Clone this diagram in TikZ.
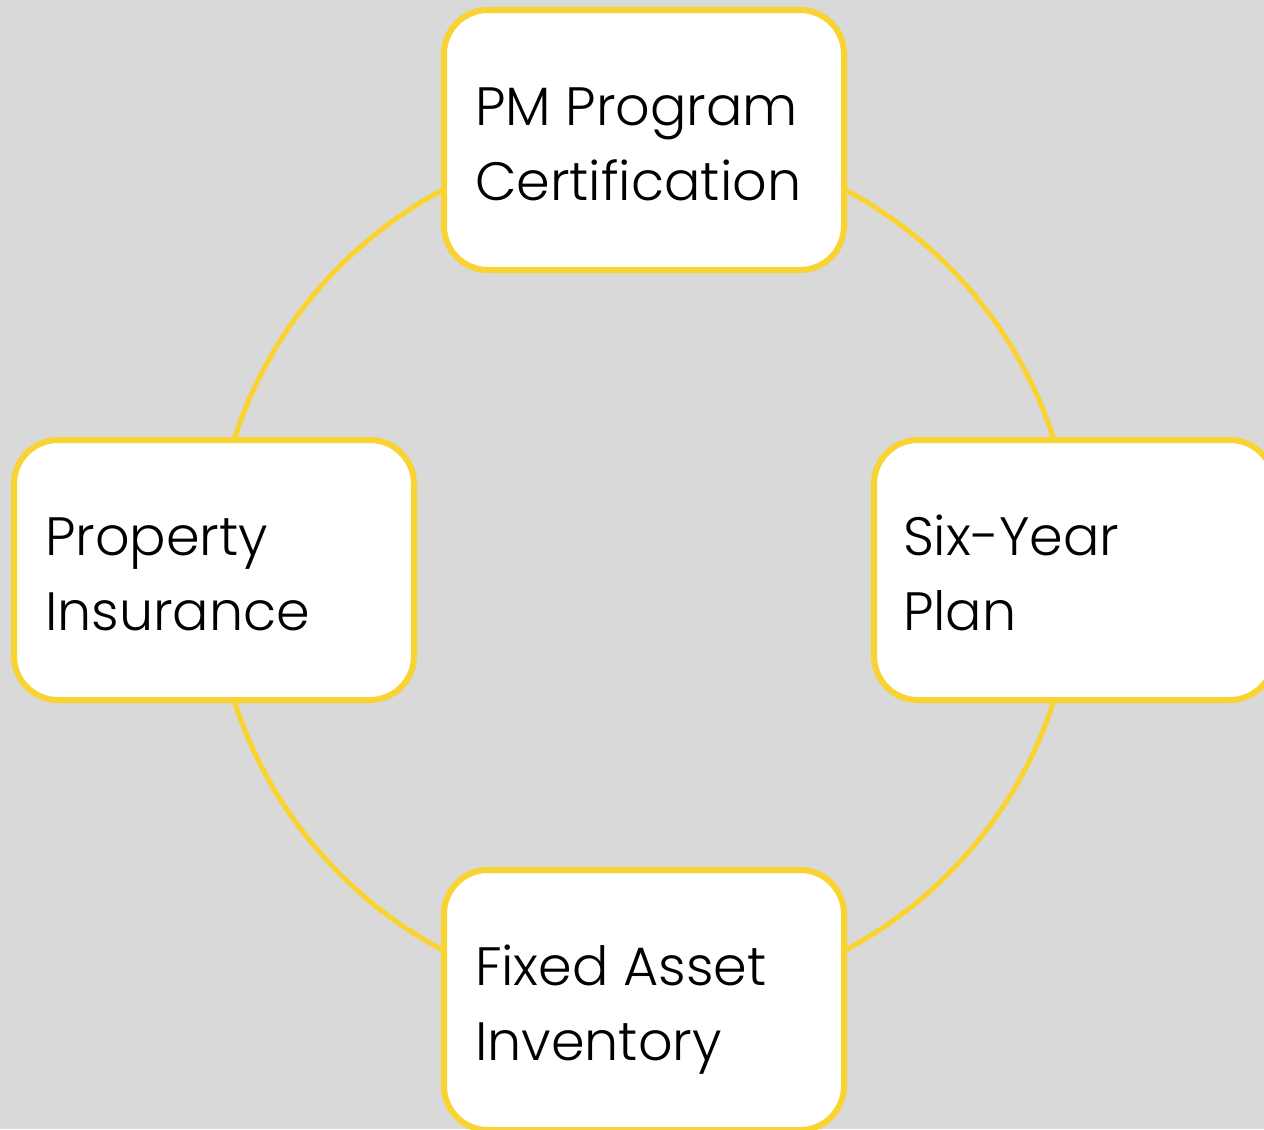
\documentclass[tikz,border=0pt]{standalone}
\usepackage{fontspec}
\setmainfont{Poppins Light}
\definecolor{bg}{HTML}{D9D9D9}
\definecolor{gold}{HTML}{F9D331}
\begin{document}
\begin{tikzpicture}[x=0.75pt,y=-0.75pt,
  card/.style={draw=gold, line width=4.5pt, fill=white, rounded corners=33pt,
    minimum width=300pt, minimum height=195pt, inner sep=0pt, outer sep=0pt},
  label/.style={anchor=base west, align=left, inner sep=0pt, outer sep=0pt,
    font={\fontsize{40.5pt}{56.25pt}\selectfont}},
  ring/.style={draw=gold, line width=3.8pt}]
\useasboundingbox (0,0) rectangle (1264,1129);
\clip (0,0) rectangle (1264,1129);
\fill[bg] (0,0) rectangle (1264,1129);
\coordinate (c) at (644,570);
\draw[ring] (c) circle[radius=322.5pt];
\node[card] (top) at (644,140) {};
\node[card] (left) at (214,570) {};
\node[card] (right) at (1074,570) {};
\node[card] (bottom) at (644,1000) {};
\node[label] (ttop) at ([shift={(31,190)}]top.north west) {PM Program\\Certification};
\node[label] (tleft) at ([shift={(31,190)}]left.north west) {Property\\Insurance};
\node[label] (tright) at ([shift={(29,190)}]right.north west) {Six-Year\\Plan};
\node[label] (tbottom) at ([shift={(31,190)}]bottom.north west) {Fixed Asset\\Inventory};
\end{tikzpicture}
\end{document}
